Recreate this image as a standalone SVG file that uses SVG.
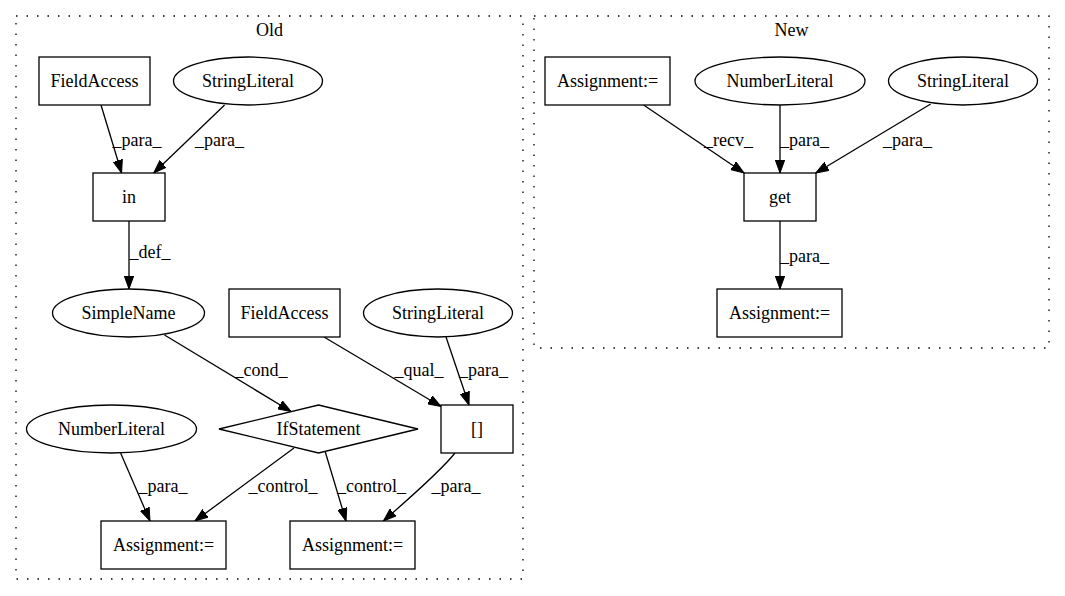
<svg xmlns="http://www.w3.org/2000/svg" width="1065" height="596" viewBox="0 0 1065 596">
<style>
text{font-family:"Liberation Serif","Times New Roman",serif;font-size:18px;fill:#000;text-anchor:middle}
.n{fill:#fff;stroke:#000;stroke-width:1.3}
.c{fill:none;stroke:#000;stroke-width:1.3;stroke-dasharray:1.5 9}
.e{fill:none;stroke:#000;stroke-width:1.3;marker-end:url(#arr)}
</style>
<defs>
<marker id="arr" markerWidth="14" markerHeight="10" refX="13" refY="5" orient="auto" markerUnits="userSpaceOnUse">
<path d="M0,0.3 L13,5 L0,9.7 z" fill="#000" stroke="#000" stroke-width="1"/>
</marker>
</defs>
<rect width="1065" height="596" fill="#fff"/>
<g id="cluster_old">
<rect class="c" x="16" y="16" width="507" height="563"/>
<text x="269.5" y="36">Old</text>
</g>
<g id="cluster_new">
<rect class="c" x="534" y="16" width="515" height="332"/>
<text x="791.5" y="36">New</text>
</g>
<g id="connectors">
<path class="e" d="M101,105 L121.6,173"/>
<text x="137" y="146">_para_</text>
<path class="e" d="M224.6,105 L153.7,173"/>
<text x="219.5" y="146">_para_</text>
<path class="e" d="M129,221 L129,289"/>
<text x="150" y="258">_def_</text>
<path class="e" d="M164.5,335 L291,411.5"/>
<text x="261" y="376">_cond_</text>
<path class="e" d="M324,337 L441,406.5"/>
<text x="419" y="376">_qual_</text>
<path class="e" d="M446,337 L469,405"/>
<text x="483.5" y="376">_para_</text>
<path class="e" d="M120.6,453 L150,521"/>
<text x="163" y="492">_para_</text>
<path class="e" d="M294,448 L195,521"/>
<text x="283" y="492">_control_</text>
<path class="e" d="M325,451 L346,521"/>
<text x="371.5" y="492">_control_</text>
<path class="e" d="M455,453 C440,472 405,502 383.4,521"/>
<text x="456" y="492">_para_</text>
<path class="e" d="M643.6,105 L744,173"/>
<text x="728.5" y="146">_recv_</text>
<path class="e" d="M780,105 L780,173"/>
<text x="804.5" y="146">_para_</text>
<path class="e" d="M930.7,104 L815.8,173"/>
<text x="907.5" y="146">_para_</text>
<path class="e" d="M780,221 L780,289"/>
<text x="804.5" y="262">_para_</text>
</g>
<g id="old_fieldaccess1"><rect class="n" x="39" y="57" width="111" height="48"/><text x="94.5" y="87">FieldAccess</text></g>
<g id="old_stringliteral1"><ellipse class="n" cx="248" cy="81" rx="74.5" ry="24"/><text x="248" y="87">StringLiteral</text></g>
<g id="old_in"><rect class="n" x="93" y="173" width="72" height="48"/><text x="129" y="203">in</text></g>
<g id="old_simplename"><ellipse class="n" cx="128.5" cy="313" rx="76" ry="24"/><text x="128.5" y="319">SimpleName</text></g>
<g id="old_fieldaccess2"><rect class="n" x="229" y="289" width="111" height="48"/><text x="284.5" y="319">FieldAccess</text></g>
<g id="old_stringliteral2"><ellipse class="n" cx="438" cy="313" rx="74.5" ry="24"/><text x="438" y="319">StringLiteral</text></g>
<g id="old_numberliteral"><ellipse class="n" cx="111.5" cy="429" rx="85" ry="24"/><text x="111.5" y="435">NumberLiteral</text></g>
<g id="old_ifstatement"><polygon class="n" points="219,429 318.5,405 418,429 318.5,453"/><text x="318.5" y="435">IfStatement</text></g>
<g id="old_index"><rect class="n" x="441" y="405" width="72" height="48"/><text x="477" y="435">[]</text></g>
<g id="old_assignment1"><rect class="n" x="101" y="521" width="125" height="48"/><text x="163.5" y="551">Assignment:=</text></g>
<g id="old_assignment2"><rect class="n" x="290" y="521" width="125" height="48"/><text x="352.5" y="551">Assignment:=</text></g>
<g id="new_assignment1"><rect class="n" x="545" y="57" width="125" height="48"/><text x="607.5" y="87">Assignment:=</text></g>
<g id="new_numberliteral"><ellipse class="n" cx="780" cy="81" rx="85" ry="24"/><text x="780" y="87">NumberLiteral</text></g>
<g id="new_stringliteral"><ellipse class="n" cx="963" cy="81" rx="74.5" ry="24"/><text x="963" y="87">StringLiteral</text></g>
<g id="new_get"><rect class="n" x="744" y="173" width="72" height="48"/><text x="780" y="203">get</text></g>
<g id="new_assignment2"><rect class="n" x="717" y="289" width="125" height="48"/><text x="779.5" y="319">Assignment:=</text></g>
</svg>
